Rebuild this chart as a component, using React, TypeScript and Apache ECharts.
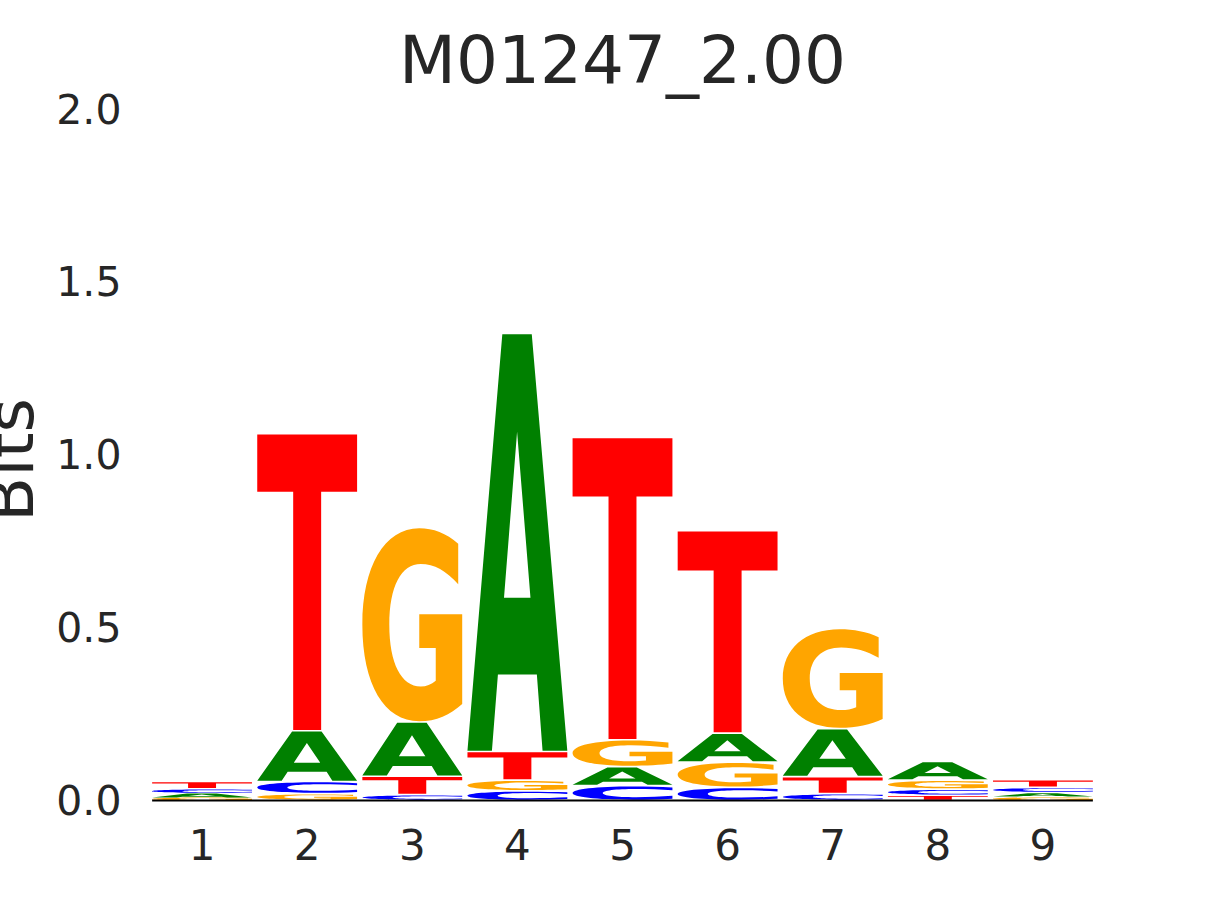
import React, { useEffect, useRef } from "react";
import * as echarts from "echarts";

// ---- data (bits per letter at each position) ----
const positions = ["1", "2", "3", "4", "5", "6", "7", "8", "9"];
const letters = ["A", "C", "G", "T"];
const heightsA = [0.011, 0.147, 0.157, 1.21, 0.055, 0.084, 0.139, 0.054, 0.014];
const heightsC = [0.014, 0.035, 0.017, 0.028, 0.043, 0.038, 0.02, 0.018, 0.015];
const heightsG = [0.009, 0.02, 0.563, 0.031, 0.078, 0.073, 0.29, 0.026, 0.009];
const heightsT = [0.021, 0.86, 0.053, 0.083, 0.875, 0.586, 0.049, 0.015, 0.022];
const yTicks = [0, 0.5, 1.0, 1.5, 2.0];
const titleText = "M01247_2.00";
const yLabel = "Bits";

const COLORS: Record<string, string> = {
  A: "#008000",
  C: "#0000ff",
  G: "#ffa500",
  T: "#ff0000",
};

const GLYPHS: Record<string, string> = {
  A: "M0.349,0 L0.644,0 L1,1 L0.752,1 L0.695,0.817 L0.305,0.817 L0.245,1 L0,1 Z M0.497,0.234 L0.366,0.633 L0.631,0.633 Z",
  C: "M0.96,0.08 C0.84,0.025 0.71,0 0.58,0 C0.22,0 0,0.2 0,0.5 C0,0.8 0.22,1 0.58,1 C0.71,1 0.84,0.975 0.96,0.92 L0.96,0.71 C0.85,0.78 0.73,0.815 0.61,0.815 C0.41,0.815 0.29,0.7 0.29,0.5 C0.29,0.3 0.41,0.185 0.61,0.185 C0.73,0.185 0.85,0.22 0.96,0.29 Z",
  G: "M0.96,0.08 C0.84,0.025 0.71,0 0.57,0 C0.22,0 0,0.2 0,0.5 C0,0.81 0.22,1 0.57,1 C0.74,1 0.88,0.965 1,0.91 L1,0.445 L0.57,0.445 L0.57,0.62 L0.735,0.62 L0.735,0.79 C0.69,0.81 0.64,0.82 0.585,0.82 C0.39,0.82 0.27,0.7 0.27,0.5 C0.27,0.3 0.39,0.185 0.585,0.185 C0.72,0.185 0.84,0.22 0.96,0.29 Z",
  T: "M0,0 L1,0 L1,0.194 L0.64,0.194 L0.64,1 L0.36,1 L0.36,0.194 L0,0.194 Z",
};

const TEXT = "#262626";
const FONT = "DejaVu Sans";

function buildStacks() {
  const table: Record<string, number[]> = { A: heightsA, C: heightsC, G: heightsG, T: heightsT };
  const out: number[][] = [];
  positions.forEach((_, i) => {
    const items = letters.map((l, li) => ({ li, h: table[l][i] }));
    items.sort((a, b) => a.h - b.h);
    let base = 0;
    items.forEach((it) => {
      out.push([i, base, it.h, it.li]);
      base += it.h;
    });
  });
  return out;
}

export default function App() {
  const ref = useRef<HTMLDivElement>(null);
  useEffect(() => {
    if (!ref.current) return;
    const chart = echarts.init(ref.current, undefined, { renderer: "svg" });
    const stacks = buildStacks();
    const option: any = {
      animation: false,
      backgroundColor: "#ffffff",
      grid: {
        left: 149.5,
        right: 119.5,
        top: 109.5,
        bottom: 99.5,
        containLabel: false,
        outerBoundsMode: "none",
      },
      xAxis: {
        type: "category",
        data: positions,
        boundaryGap: true,
        axisLine: { show: false },
        axisTick: { show: false },
        splitLine: { show: false },
        axisLabel: {
          color: TEXT,
          fontFamily: FONT,
          fontSize: 42,
          margin: 24,
        },
      },
      yAxis: {
        type: "value",
        min: 0,
        max: 2,
        interval: 0.5,
        axisLine: { show: false },
        axisTick: { show: false },
        splitLine: { show: false },
        axisLabel: {
          color: TEXT,
          fontFamily: FONT,
          fontSize: 41,
          margin: 28,
          formatter: (v: number) => (yTicks.includes(v) ? v.toFixed(1) : ""),
        },
      },
      graphic: [
        {
          type: "text",
          x: 622.5,
          y: 60,
          style: {
            text: titleText,
            fill: TEXT,
            font: `66px "${FONT}"`,
            textAlign: "center",
            textVerticalAlign: "middle",
          },
        },
        {
          type: "text",
          x: 10,
          y: 460,
          rotation: Math.PI / 2,
          style: {
            text: yLabel,
            fill: TEXT,
            font: `66px "${FONT}"`,
            textAlign: "center",
            textVerticalAlign: "middle",
          },
        },
      ],
      series: [
        {
          type: "custom",
          coordinateSystem: "cartesian2d",
          data: stacks,
          encode: { x: 0, y: [1, 2] },
          renderItem: (params: any, api: any) => {
            const idx = api.value(0);
            const base = api.value(1);
            const h = api.value(2);
            const li = api.value(3);
            const l = letters[li];
            const bw = api.size([1, 0])[0];
            const top = api.coord([idx, base + h]);
            const bot = api.coord([idx, base]);
            const w = bw * 0.95;
            let y = top[1];
            let hh = bot[1] - top[1];
            if (hh > 4) {
              y += 0.8;
              hh -= 1.6;
            }
            return {
              type: "path",
              shape: {
                pathData: GLYPHS[l],
                x: top[0] - w / 2,
                y: y,
                width: w,
                height: hh,
                layout: "cover",
              },
              style: { fill: COLORS[l] },
            };
          },
        },
        {
          type: "custom",
          coordinateSystem: "cartesian2d",
          data: [[0, 0]],
          z: 5,
          renderItem: (params: any, api: any) => {
            const bw = api.size([1, 0])[0];
            const p0 = api.coord([0, 0]);
            const p8 = api.coord([positions.length - 1, 0]);
            return {
              type: "line",
              shape: {
                x1: p0[0] - bw * 0.475,
                y1: p0[1],
                x2: p8[0] + bw * 0.475,
                y2: p8[1],
              },
              style: { stroke: "#000000", lineWidth: 2 },
            };
          },
        },
      ],
    };
    chart.setOption(option);
    return () => chart.dispose();
  }, []);
  return (
    <div
      ref={ref}
      style={{ position: "fixed", left: 0, top: 0, width: 1215, height: 900, background: "#fff" }}
    />
  );
}
